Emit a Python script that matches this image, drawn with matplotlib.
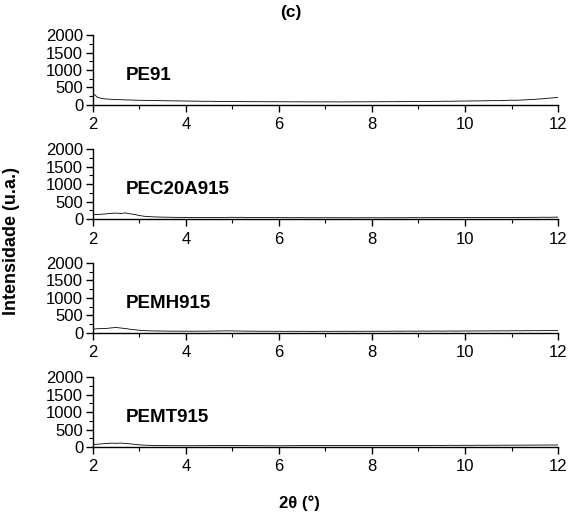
import numpy as np
import matplotlib
matplotlib.use("Agg")
import matplotlib.pyplot as plt
from matplotlib.ticker import MultipleLocator

plt.rcParams['font.family'] = ['Liberation Sans', 'DejaVu Sans']

# 2theta from 2 to 12 deg, 0.1 step
two_theta = np.round(np.arange(2.0, 12.01, 0.1), 1)

sample_names = ["PE91", "PEC20A915", "PEMH915", "PEMT915"]

# intensities (u.a.)
pe91 = [330, 215, 180, 165, 158, 150, 146, 140, 138, 134,
        130, 128, 125, 122, 120, 118, 115, 114, 112, 110,
        108, 107, 104, 103, 100, 102, 98, 97, 95, 96,
        94, 92, 93, 90, 91, 89, 90, 88, 87, 89,
        86, 88, 85, 86, 84, 86, 83, 85, 84, 82,
        85, 83, 84, 82, 85, 84, 86, 84, 87, 85,
        88, 86, 89, 88, 90, 89, 92, 90, 93, 94,
        95, 97, 96, 99, 98, 101, 103, 102, 105, 107,
        108, 110, 112, 111, 115, 117, 120, 118, 124, 128,
        132, 130, 137, 142, 150, 156, 168, 175, 190, 200,
        210]

pec20a915 = [120, 130, 140, 150, 165, 170, 160, 175, 150, 130,
             100, 80, 70, 62, 58, 55, 52, 50, 48, 47,
             46, 45, 47, 44, 45, 43, 46, 44, 45, 48,
             50, 47, 49, 46, 44, 42, 43, 41, 42, 40,
             41, 39, 40, 38, 40, 39, 37, 39, 38, 36,
             38, 37, 39, 36, 38, 37, 35, 37, 36, 38,
             36, 37, 35, 38, 36, 37, 39, 36, 38, 40,
             38, 39, 41, 38, 40, 42, 40, 41, 43, 40,
             42, 44, 41, 43, 45, 42, 44, 46, 43, 45,
             47, 44, 48, 46, 49, 47, 50, 52, 49, 53,
             55]

pemh915 = [100, 115, 120, 125, 140, 150, 135, 120, 100, 85,
           70, 60, 55, 52, 50, 48, 47, 45, 46, 44,
           45, 43, 44, 46, 45, 47, 48, 50, 52, 54,
           52, 50, 48, 46, 45, 44, 43, 42, 44, 41,
           42, 40, 41, 43, 40, 42, 41, 39, 40, 42,
           41, 40, 42, 41, 43, 42, 40, 43, 41, 44,
           42, 43, 45, 42, 44, 46, 43, 45, 47, 44,
           46, 48, 45, 47, 49, 46, 48, 50, 47, 49,
           51, 48, 52, 50, 53, 51, 54, 52, 55, 53,
           56, 58, 55, 59, 57, 60, 58, 62, 60, 63,
           62]

pemt915 = [70, 80, 90, 100, 110, 105, 112, 100, 90, 75,
           60, 52, 48, 45, 42, 40, 39, 37, 38, 36,
           37, 35, 36, 38, 37, 39, 41, 40, 42, 44,
           43, 41, 40, 39, 37, 38, 36, 37, 35, 36,
           34, 35, 37, 36, 38, 40, 42, 41, 43, 44,
           42, 43, 41, 44, 42, 40, 43, 41, 39, 42,
           40, 41, 43, 40, 42, 44, 41, 43, 45, 42,
           44, 46, 43, 45, 47, 44, 46, 48, 45, 47,
           49, 46, 48, 50, 47, 49, 51, 48, 52, 50,
           53, 51, 54, 52, 55, 53, 56, 54, 57, 55,
           58]

series = [pe91, pec20a915, pemh915, pemt915]

fig = plt.figure(figsize=(5.7, 5.24), dpi=100)

left, width, height = 0.163, 0.816, 0.133
bottoms = [0.800, 0.582, 0.365, 0.147]

for name, vals, b in zip(sample_names, series, bottoms):
    ax = fig.add_axes([left, b, width, height])
    ax.plot(two_theta, vals, color='black', lw=0.6)
    ax.set_xlim(2, 12)
    ax.set_ylim(0, 2000)
    ax.set_xticks([2, 4, 6, 8, 10, 12])
    ax.set_yticks([0, 500, 1000, 1500, 2000])
    ax.xaxis.set_minor_locator(MultipleLocator(1))
    ax.yaxis.set_minor_locator(MultipleLocator(250))
    ax.spines['top'].set_visible(False)
    ax.spines['right'].set_visible(False)
    ax.spines['left'].set_linewidth(1.0)
    ax.spines['bottom'].set_linewidth(1.0)
    ax.tick_params(which='major', direction='out', length=5, width=1.0,
                   labelsize=12, pad=2)
    ax.tick_params(axis='x', which='major', pad=4)
    ax.tick_params(which='minor', direction='out', length=3, width=0.8)
    ax.text(2.7, 850, name, fontsize=13.5, fontweight='bold', va='center')

fig.text(0.51, 0.977, "(c)", fontsize=12.5, fontweight='bold',
         ha='center', va='center')
fig.text(0.02, 0.54, "Intensidade (u.a.)", fontsize=13, fontweight='bold',
         rotation=90, ha='center', va='center')
fig.text(0.525, 0.04, "2θ (°)", fontsize=12, fontweight='bold',
         ha='center', va='center')

fig.savefig("out.png", dpi=100)
